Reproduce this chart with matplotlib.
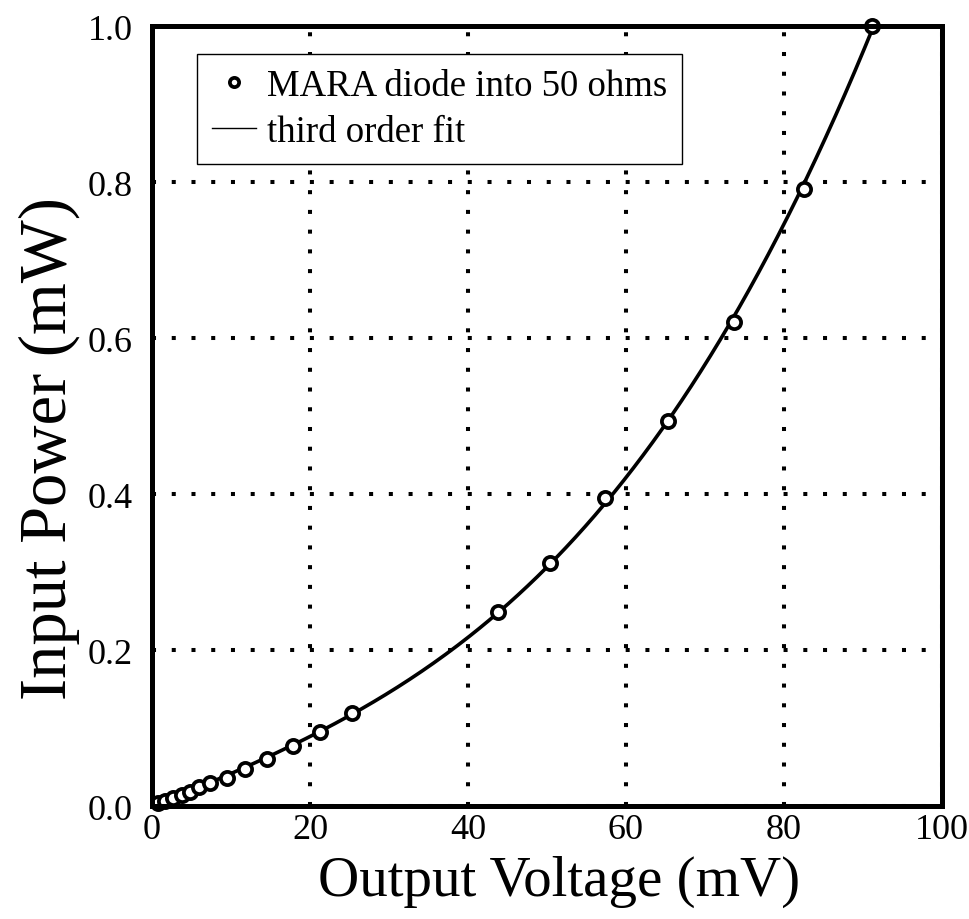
import numpy as np
import matplotlib
matplotlib.use("Agg")
import matplotlib.pyplot as plt

plt.rcParams['font.family'] = ['Liberation Serif', 'DejaVu Serif']

# measured diode detector response (mV out vs mW in)
voltage = [0.8, 1.6, 2.7, 3.8, 4.8, 5.9, 7.3, 9.5, 11.8, 14.5, 17.9, 21.3,
           25.3, 43.8, 50.4, 57.3, 65.3, 73.7, 82.5, 91.1]
power = [0.004, 0.007, 0.010, 0.014, 0.018, 0.024, 0.030, 0.036, 0.048, 0.060,
         0.077, 0.095, 0.119, 0.249, 0.312, 0.395, 0.494, 0.621, 0.791, 1.0]

x_ticks = [0, 20, 40, 60, 80, 100]
y_ticks = [0.0, 0.2, 0.4, 0.6, 0.8, 1.0]

v = np.array(voltage)
p = np.array(power)

# cubic fit through the measured points
coef = np.polyfit(v, p, 3)
vfit = np.linspace(0, v.max(), 300)
pfit = np.polyval(coef, vfit)

fig = plt.figure(figsize=(9.7, 9.2), dpi=100)
ax = fig.add_axes([0.1567, 0.1228, 0.8144, 0.8478])

# markers sit just under the frame so the top point merges with the spine
ax.plot(v, p, 'o', ms=9.5, mec='black', mfc='white', mew=2.7,
        zorder=2.4, clip_on=False, label='MARA diode into 50 ohms')
ax.plot(vfit, pfit, '-', color='black', lw=2.6, zorder=2.3,
        label='third order fit')

ax.set_xlim(0, 100)
ax.set_ylim(0, 1.0)
ax.set_xticks(x_ticks)
ax.set_yticks(y_ticks)
ax.set_xticklabels([str(t) for t in x_ticks])
ax.set_yticklabels(['%.1f' % t for t in y_ticks])

ax.set_axisbelow(True)
ax.grid(True, color='black', lw=2.9, linestyle=(0, (1, 3.9)))

for s in ax.spines.values():
    s.set_linewidth(3.6)

ax.tick_params(axis='both', length=0, labelsize=26)
ax.tick_params(axis='x', pad=5)
ax.tick_params(axis='y', pad=14)

ax.set_xlabel('Output Voltage (mV)', fontsize=41, labelpad=6, x=0.515)
ax.set_ylabel('Input Power (mW)', fontsize=48, labelpad=5, y=0.46)

leg = ax.legend(loc='upper left', bbox_to_anchor=(0.057, 0.964),
                borderaxespad=0, fontsize=26.5, fancybox=False,
                edgecolor='black', framealpha=1, markerscale=0.7,
                handlelength=1.2, handletextpad=0.3, labelspacing=0.3,
                borderpad=0.4)
leg.get_frame().set_linewidth(1.0)
leg.get_lines()[1].set_linewidth(1.0)

fig.savefig('out.png', dpi=100)
